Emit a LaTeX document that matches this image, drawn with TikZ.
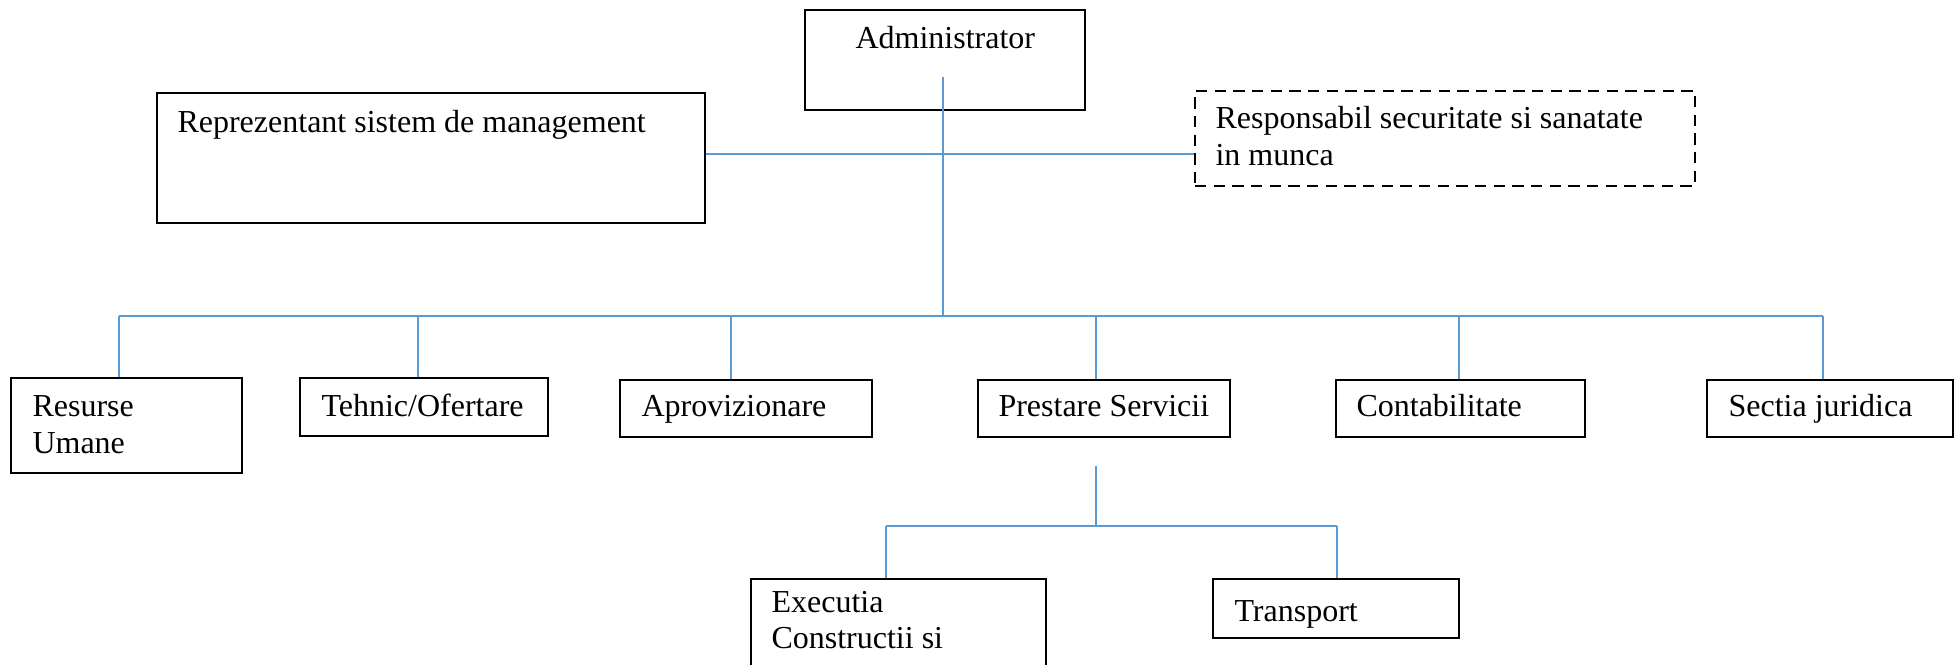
\documentclass[tikz,border=0pt]{standalone}
\usepackage{fontspec}
\setmainfont{Liberation Serif}
\definecolor{linkblue}{HTML}{5B9BD5}
\begin{document}
\begin{tikzpicture}[x=0.375pt,y=-0.375pt,
  box/.style={draw=black,line width=0.75pt,rectangle,inner sep=0pt,anchor=north west},
  dbox/.style={box,dashed,dash pattern=on 4.2pt off 2.8pt},
  txt/.style={anchor=base west,inner sep=0pt,font=\fontsize{12}{13.8}\selectfont},
  conn/.style={draw=linkblue,line width=0.55pt}]
\clip (0,0) rectangle (1955,665);
\useasboundingbox (0,0) rectangle (1955,665);
% boxes
\node[box,minimum width=280*0.375pt,minimum height=100*0.375pt] (adm) at (804,9) {};
\node[box,minimum width=548*0.375pt,minimum height=130*0.375pt] (rep) at (156,92) {};
\node[dbox,minimum width=500*0.375pt,minimum height=95*0.375pt] (resp) at (1194,90) {};
\node[box,minimum width=231*0.375pt,minimum height=95*0.375pt] (rh) at (10,377) {};
\node[box,minimum width=248*0.375pt,minimum height=58*0.375pt] (teh) at (299,377) {};
\node[box,minimum width=252*0.375pt,minimum height=57*0.375pt] (apr) at (619,379) {};
\node[box,minimum width=252*0.375pt,minimum height=57*0.375pt] (pre) at (977,379) {};
\node[box,minimum width=249*0.375pt,minimum height=57*0.375pt] (con) at (1335,379) {};
\node[box,minimum width=246*0.375pt,minimum height=57*0.375pt] (sec) at (1706,379) {};
\node[box,minimum width=295*0.375pt,minimum height=120*0.375pt] (exe) at (750,578) {};
\node[box,minimum width=246*0.375pt,minimum height=59*0.375pt] (tra) at (1212,578) {};
% texts
\node[txt] (tadm) at (855,49) {Administrator};
\node[txt] (trep) at (177,133) {Reprezentant sistem de management};
\node[txt] (tresp1) at (1215,129) {Responsabil securitate si sanatate};
\node[txt] (tresp2) at (1215,166) {in munca};
\node[txt] (trh1) at (32,417) {Resurse};
\node[txt] (trh2) at (32,454) {Umane};
\node[txt] (tteh) at (321,417) {Tehnic/Ofertare};
\node[txt] (tapr) at (641,417) {Aprovizionare};
\node[txt] (tpre) at (998,417) {Prestare Servicii};
\node[txt] (tcon) at (1356,417) {Contabilitate};
\node[txt] (tsec) at (1728,417) {Sectia juridica};
\node[txt] (texe1) at (771,613) {Executia};
\node[txt] (texe2) at (771,649) {Constructii si};
\node[txt] (ttra) at (1234,622) {Transport};
% connector points
\coordinate (atop) at (943,77);
\coordinate (amid) at (943,154);
\coordinate (abus) at (943,316);
\coordinate (b1) at (119,316);
\coordinate (b2) at (418,316);
\coordinate (b3) at (731,316);
\coordinate (b4) at (1096,316);
\coordinate (b5) at (1459,316);
\coordinate (b6) at (1823,316);
\coordinate (ptop) at (1096,466);
\coordinate (pbus) at (1096,526);
\coordinate (s1) at (886,526);
\coordinate (s2) at (1337,526);
% connectors
\draw[conn] (atop) -- (abus);
\draw[conn] (rep.east |- amid) -- (resp.west |- amid);
\draw[conn] (b1) -- (b6);
\draw[conn] (b1) -- (b1 |- rh.north);
\draw[conn] (b2) -- (b2 |- teh.north);
\draw[conn] (b3) -- (b3 |- apr.north);
\draw[conn] (b4) -- (b4 |- pre.north);
\draw[conn] (b5) -- (b5 |- con.north);
\draw[conn] (b6) -- (b6 |- sec.north);
\draw[conn] (ptop) -- (pbus);
\draw[conn] (s1) -- (s2);
\draw[conn] (s1) -- (s1 |- exe.north);
\draw[conn] (s2) -- (s2 |- tra.north);
\end{tikzpicture}
\end{document}
